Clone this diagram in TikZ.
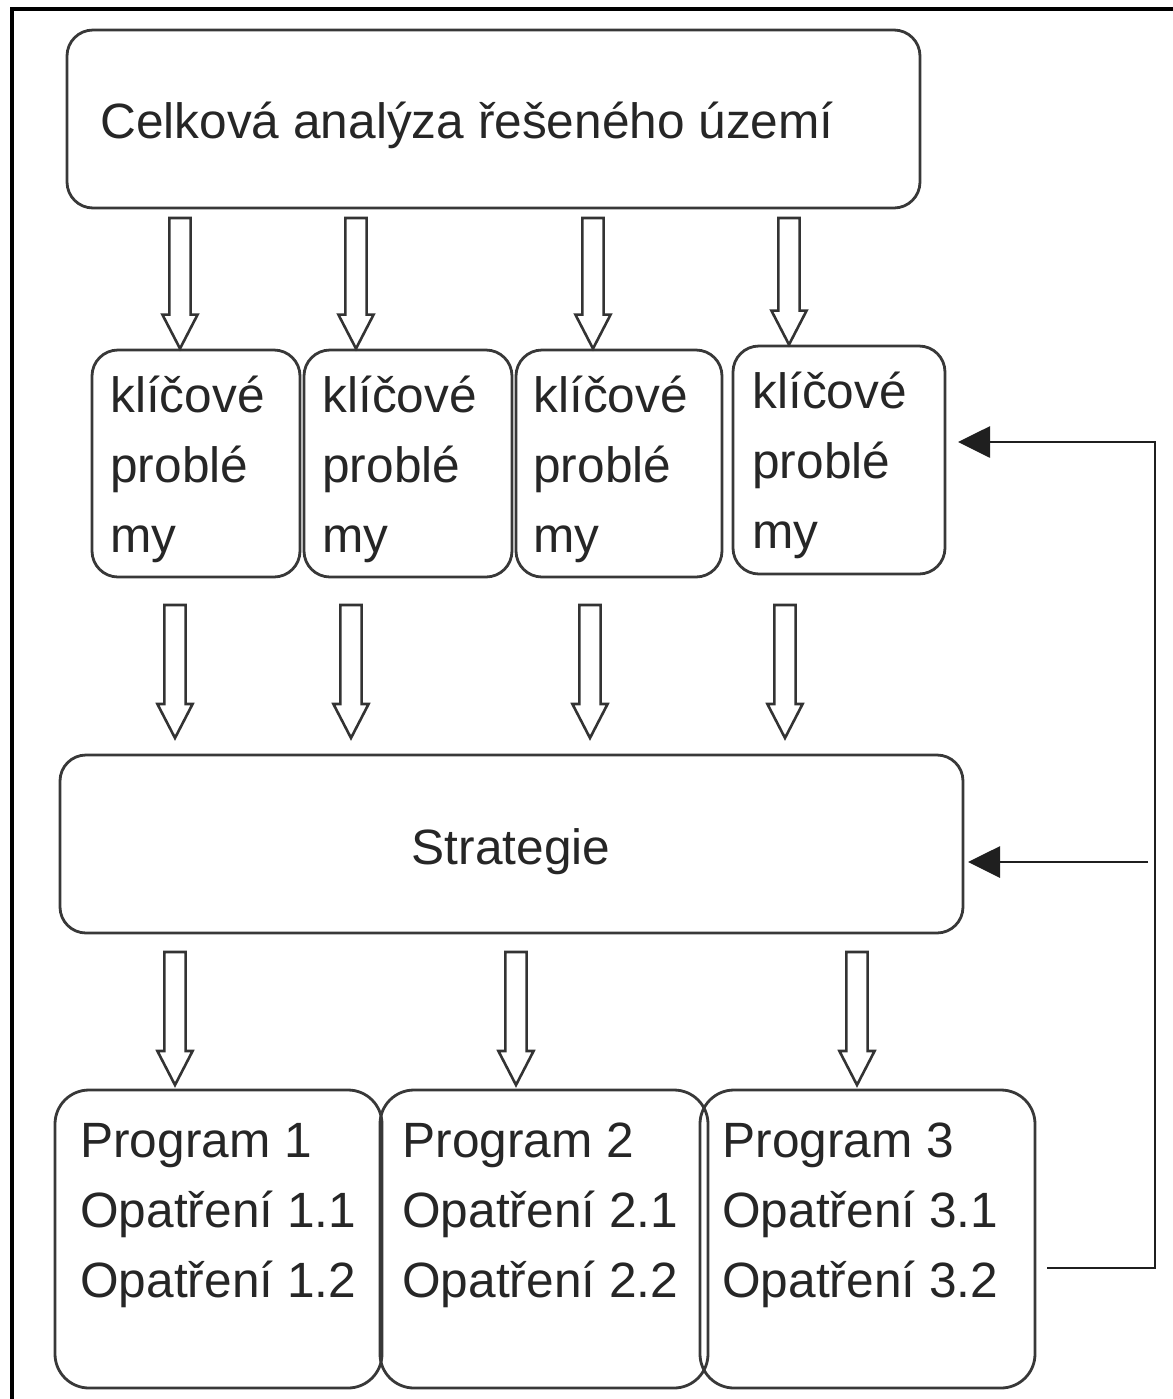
\documentclass[tikz,border=0pt]{standalone}
\usepackage{fontspec}
\setmainfont{Liberation Sans}
\usetikzlibrary{calc,fit,arrows.meta}
\tikzset{
  box/.style={draw=black!78, line width=1.4pt, rounded corners=13pt, inner sep=0pt},
  pbox/.style={box, rounded corners=17pt},
  lbl/.style={inner sep=0pt, align=left, font=\fontsize{24.8}{35}\selectfont, text=black!85},
  blockarr/.style={draw=black!80, line width=1.3pt, fill=white, line join=miter},
  fb/.style={draw=black!88, line width=1.4pt},
  fbtip/.style={-{Triangle[length=16pt,width=15.5pt]}},
  frame/.style={draw=black, line width=2pt}
}
\newcommand\hollowarrow[2]{%
  \path[blockarr] let \p1=(#1), \p2=(#2) in
    (\x1-5.3pt,\y1) -- (\x1+5.3pt,\y1) -- (\x1+5.3pt,\y2+17pt) -- (\x1+8.8pt,\y2+17pt)
    -- (\x1,\y2) -- (\x1-8.8pt,\y2+17pt) -- (\x1-5.3pt,\y2+17pt) -- cycle;}
\begin{document}
\begin{tikzpicture}[x=0.5pt,y=-0.5pt]
\useasboundingbox (0,0) rectangle (1173,1399);
\draw[frame] (12,1405) -- (12,9) -- (1180,9);

% top box
\node[box, fit={(67,30) (920,208)}] (top) {};
\node[lbl, anchor=base west] (topt) at (100,138) {Celková analýza řešeného území};

% key problems
\node[box, fit={(92,350) (300,577)}] (k1) {};
\node[box, fit={(304,350) (512,577)}] (k2) {};
\node[box, fit={(516,350) (722,577)}] (k3) {};
\node[box, fit={(733,346) (945,574)}] (k4) {};
\node[lbl, anchor=base west] (k1t) at (110,552) {klíčové\\problé\\my};
\node[lbl, anchor=base west] (k2t) at (322,552) {klíčové\\problé\\my};
\node[lbl, anchor=base west] (k3t) at (533,552) {klíčové\\problé\\my};
\node[lbl, anchor=base west] (k4t) at (752,548) {klíčové\\problé\\my};

% strategy
\node[box, fit={(60,755) (963,933)}] (str) {};
\node[lbl, anchor=base] (strt) at (511,864) {Strategie};

% programs
\node[pbox, fit={(55,1090) (382,1388)}] (p1) {};
\node[pbox, fit={(380,1090) (708,1388)}] (p2) {};
\node[pbox, fit={(700,1090) (1035,1388)}] (p3) {};
\node[lbl, anchor=base west] (p1t) at (80,1297) {Program 1\\Opatření 1.1\\Opatření 1.2};
\node[lbl, anchor=base west] (p2t) at (402,1297) {Program 2\\Opatření 2.1\\Opatření 2.2};
\node[lbl, anchor=base west] (p3t) at (722,1297) {Program 3\\Opatření 3.1\\Opatření 3.2};

% hollow block arrows
\foreach \ax/\kk in {180/k1,356/k2,593/k3,789/k4}
  \hollowarrow{\ax,218}{\ax,0 |- \kk.north};
\foreach \ax in {175,351,590,785}
  \hollowarrow{\ax,605}{\ax,738};
\foreach \ax in {175,516,857}
  \hollowarrow{\ax,952}{\ax,1085};

% feedback
\coordinate (fbs) at (1047,1268);
\coordinate (fbc) at (1155,1268);
\coordinate (fbu) at (1155,442);
\coordinate (fbk) at (958,442);
\coordinate (fbm) at (1148,862);
\coordinate (fbt) at (968,862);
\draw[fb,fbtip] (fbs) -- (fbc) -- (fbu) -- (fbk);
\draw[fb,fbtip] (fbm) -- (fbt);
\end{tikzpicture}
\end{document}
